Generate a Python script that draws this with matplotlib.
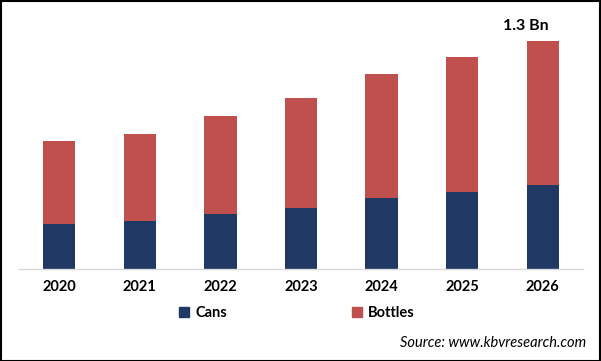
import matplotlib
matplotlib.use("Agg")
import matplotlib.pyplot as plt
from matplotlib.patches import Rectangle, Patch
import numpy as np

years = ["2020", "2021", "2022", "2023", "2024", "2025", "2026"]
cans = [0.257, 0.275, 0.315, 0.348, 0.405, 0.439, 0.479]
bottles = [0.473, 0.495, 0.557, 0.627, 0.707, 0.770, 0.821]
top_label = "1.3 Bn"

navy = "#1F3864"
red = "#C0504D"

W, H = 601, 361
fig = plt.figure(figsize=(W / 100, H / 100), dpi=100)
fig.patch.set_facecolor("white")

ax_left, ax_right, ax_bottom, ax_top = 19, 583, 269, 20
ax = fig.add_axes([ax_left / W, (H - ax_bottom) / H, (ax_right - ax_left) / W, (ax_bottom - ax_top) / H])

x = np.arange(len(years))
ax.bar(x, cans, width=0.4, color=navy, label="Cans")
ax.bar(x, bottles, width=0.4, bottom=cans, color=red, label="Bottles")

ax.set_xlim(-0.5, len(years) - 0.5)
ax.set_ylim(0, 1.3 * (ax_bottom - ax_top) / 228)
for s in ["top", "right", "left"]:
    ax.spines[s].set_visible(False)
ax.spines["bottom"].set_color("#D9D9D9")
ax.spines["bottom"].set_linewidth(1)
ax.set_yticks([])
ax.set_xticks(x)
ax.set_xticklabels(years, fontsize=10.5, fontweight="bold", family="Lato")
ax.tick_params(axis="x", length=0, pad=8)

totals = [c + b for c, b in zip(cans, bottles)]
ax.text(x[-1] - 0.21, totals[-1] + 0.045, top_label, ha="center", va="bottom",
        fontsize=11.5, fontweight="bold", family="Lato")

handles = [Patch(color=navy, label="Cans"), Patch(color=red, label="Bottles")]
leg = fig.legend(handles=handles, loc="center", bbox_to_anchor=(297 / W, 1 - 313 / H),
                 ncol=2, frameon=False, handlelength=0.7, handleheight=0.7,
                 handletextpad=0.4, columnspacing=8.6,
                 prop={"family": "Lato", "weight": "bold", "size": 10.5})

fig.text(586 / W, 1 - 343 / H, "Source: www.kbvresearch.com", ha="right", va="center",
         fontsize=10.5, style="italic", family="Lato")

fig.patches.append(Rectangle((0.5 / W, 0.5 / H), 1 - 1.5 / W, 1 - 1.5 / H, transform=fig.transFigure,
                             fill=False, edgecolor="black", linewidth=1.5))

fig.savefig("out.png", dpi=100)
